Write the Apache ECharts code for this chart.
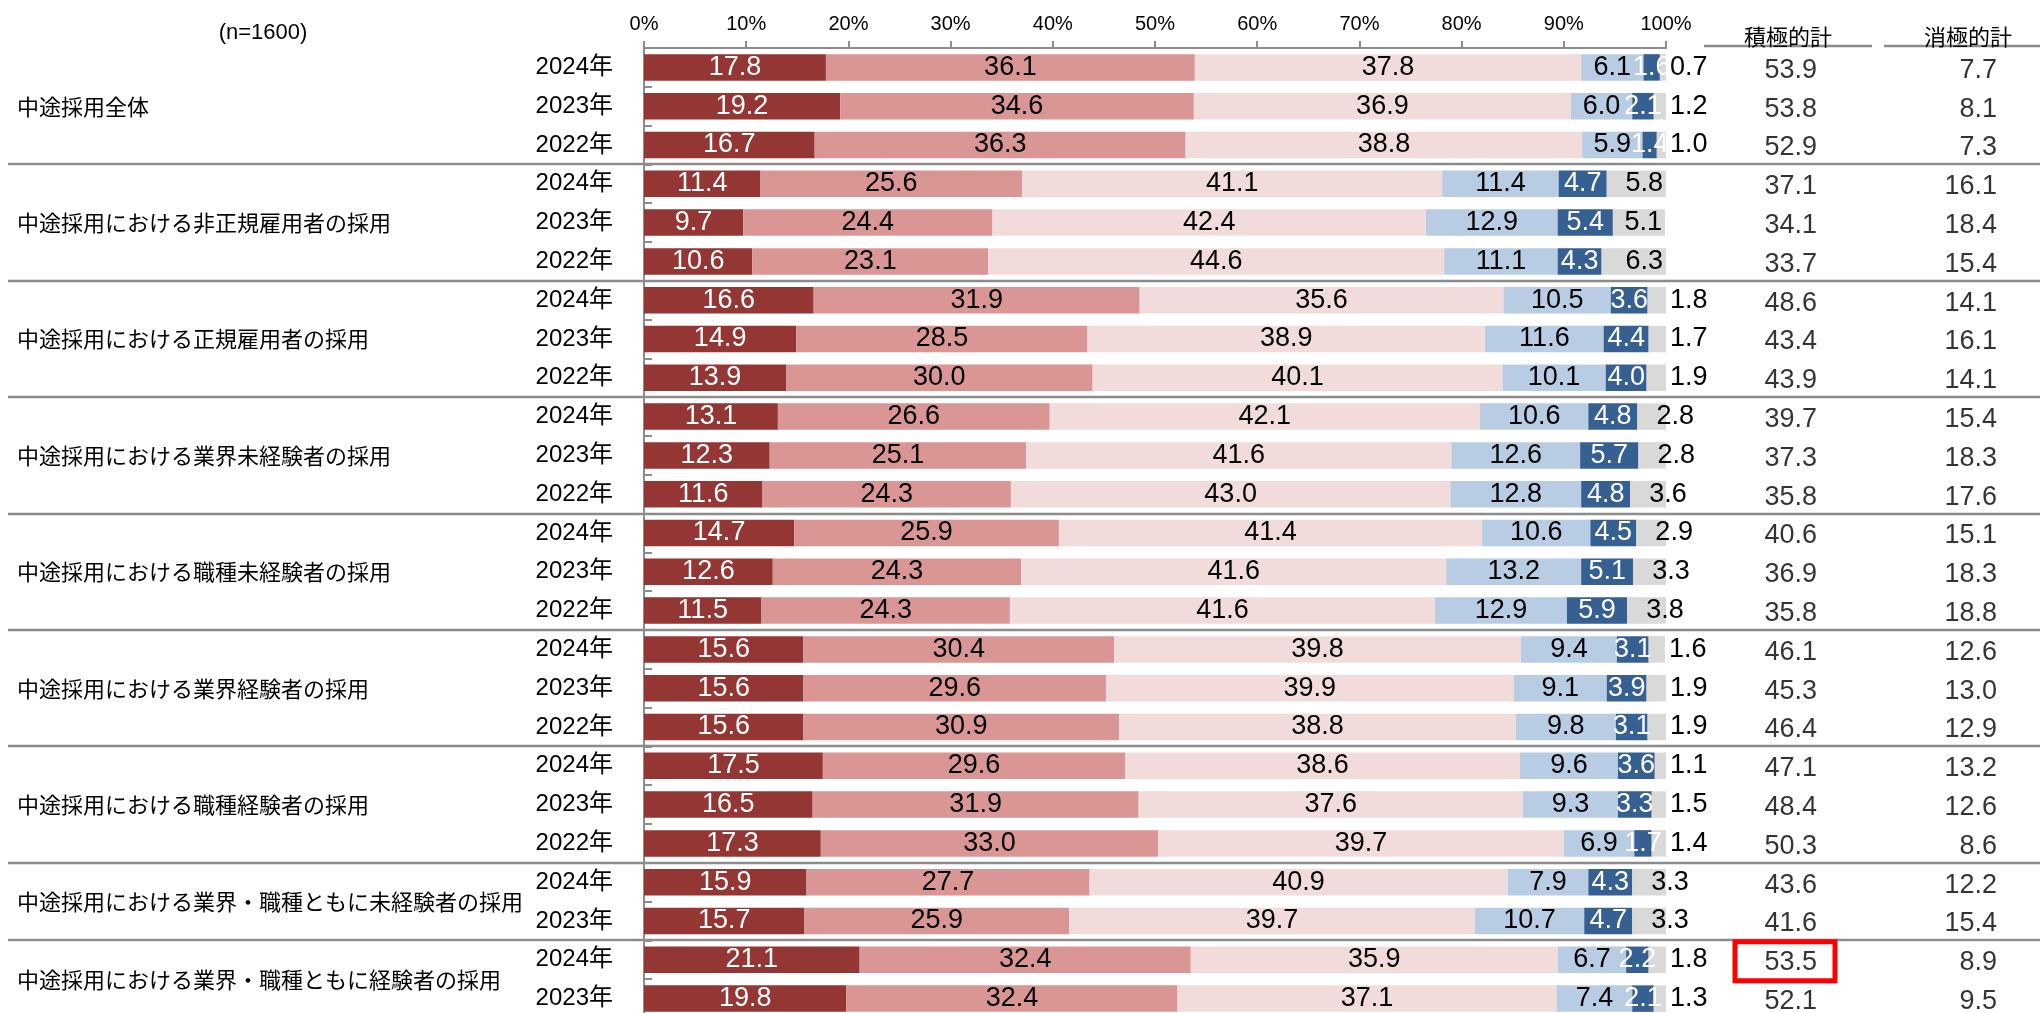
<!DOCTYPE html>
<html>
<head>
<meta charset="utf-8">
<title>中途採用の積極度</title>
<script src="https://cdn.jsdelivr.net/npm/echarts@6/dist/echarts.min.js"></script>
<style>
  html, body { margin: 0; padding: 0; background: #fff; }
  #main { width: 2040px; height: 1013px; }
</style>
</head>
<body>
<div id="main"></div>
<script>
// 行ラベル（上から順）
var years = [
  '2024年', '2023年', '2022年',
  '2024年', '2023年', '2022年',
  '2024年', '2023年', '2022年',
  '2024年', '2023年', '2022年',
  '2024年', '2023年', '2022年',
  '2024年', '2023年', '2022年',
  '2024年', '2023年', '2022年',
  '2024年', '2023年',
  '2024年', '2023年'
];
var groupNames = [
  '中途採用全体',
  '中途採用における非正規雇用者の採用',
  '中途採用における正規雇用者の採用',
  '中途採用における業界未経験者の採用',
  '中途採用における職種未経験者の採用',
  '中途採用における業界経験者の採用',
  '中途採用における職種経験者の採用',
  '中途採用における業界・職種ともに未経験者の採用',
  '中途採用における業界・職種ともに経験者の採用'
];
var groupSizes = [3, 3, 3, 3, 3, 3, 3, 2, 2];

// 各区分の値 (%)
var seg1 = [17.8, 19.2, 16.7, 11.4, 9.7, 10.6, 16.6, 14.9, 13.9, 13.1, 12.3, 11.6, 14.7, 12.6, 11.5, 15.6, 15.6, 15.6, 17.5, 16.5, 17.3, 15.9, 15.7, 21.1, 19.8];
var seg2 = [36.1, 34.6, 36.3, 25.6, 24.4, 23.1, 31.9, 28.5, 30.0, 26.6, 25.1, 24.3, 25.9, 24.3, 24.3, 30.4, 29.6, 30.9, 29.6, 31.9, 33.0, 27.7, 25.9, 32.4, 32.4];
var seg3 = [37.8, 36.9, 38.8, 41.1, 42.4, 44.6, 35.6, 38.9, 40.1, 42.1, 41.6, 43.0, 41.4, 41.6, 41.6, 39.8, 39.9, 38.8, 38.6, 37.6, 39.7, 40.9, 39.7, 35.9, 37.1];
var seg4 = [6.1, 6.0, 5.9, 11.4, 12.9, 11.1, 10.5, 11.6, 10.1, 10.6, 12.6, 12.8, 10.6, 13.2, 12.9, 9.4, 9.1, 9.8, 9.6, 9.3, 6.9, 7.9, 10.7, 6.7, 7.4];
var seg5 = [1.6, 2.1, 1.4, 4.7, 5.4, 4.3, 3.6, 4.4, 4.0, 4.8, 5.7, 4.8, 4.5, 5.1, 5.9, 3.1, 3.9, 3.1, 3.6, 3.3, 1.7, 4.3, 4.7, 2.2, 2.1];
var seg6 = [0.7, 1.2, 1.0, 5.8, 5.1, 6.3, 1.8, 1.7, 1.9, 2.8, 2.8, 3.6, 2.9, 3.3, 3.8, 1.6, 1.9, 1.9, 1.1, 1.5, 1.4, 3.3, 3.3, 1.8, 1.3];
var segNames = ['積極的', 'やや積極的', 'どちらともいえない', 'やや消極的', '消極的', 'わからない'];

// 右側の集計列
var totalHeaders = ['積極的計', '消極的計'];
var posTotal = [53.9, 53.8, 52.9, 37.1, 34.1, 33.7, 48.6, 43.4, 43.9, 39.7, 37.3, 35.8, 40.6, 36.9, 35.8, 46.1, 45.3, 46.4, 47.1, 48.4, 50.3, 43.6, 41.6, 53.5, 52.1];
var negTotal = [7.7, 8.1, 7.3, 16.1, 18.4, 15.4, 14.1, 16.1, 14.1, 15.4, 18.3, 17.6, 15.1, 18.3, 18.8, 12.6, 13.0, 12.9, 13.2, 12.6, 8.6, 12.2, 15.4, 8.9, 9.5];
var highlightRow = 23;   // 赤枠で囲む行（積極的計）
var sampleNote = '(n=1600)';

var segs = [seg1, seg2, seg3, seg4, seg5, seg6];
var segColors = ['#943634', '#DA9694', '#F2DCDB', '#B8CCE4', '#366092', '#D9D9D9'];
var segText = ['#ffffff', '#000000', '#000000', '#000000', '#ffffff', '#000000'];
var numFont = '"Liberation Sans", Arial, sans-serif';
var jpFont = '"Liberation Sans", "Noto Sans CJK JP", sans-serif';
var grayLine = '#8c8c8c';
var numSize = 27;

var rowIds = years.map(function (y, i) { return String(i); });

function fmt1(p) { return Number(p.value).toFixed(1); }

function labelFor(k, i) {
    var v = segs[k][i];
    var lab = {
        show: true,
        position: 'inside',
        color: segText[k],
        fontSize: numSize,
        fontFamily: numFont,
        offset: [0, 3],
        formatter: fmt1
    };
    // 小さい区分が続くときは左へ寄せる
    var tight = seg4[i] < 6.5 && seg5[i] < 2.5;
    if (k === 3 && tight) lab.offset = [-13, 3];
    if (k === 4 && tight) lab.offset = [-8, 3];
    if (k === 5) {
        if (v >= 5) { lab.position = 'insideRight'; lab.distance = 3; }
        else if (v >= 2.5) { lab.position = 'insideLeft'; lab.distance = 19; }
        else { lab.position = 'right'; lab.distance = 4; }
    }
    return lab;
}

var barSeries = segs.map(function (arr, k) {
    return {
        name: segNames[k],
        type: 'bar',
        stack: 'all',
        barWidth: 26.5,
        xAxisIndex: 0,
        yAxisIndex: 0,
        itemStyle: { color: segColors[k] },
        labelLayout: { hideOverlap: false },
        data: arr.map(function (v, i) {
            return { value: v, label: labelFor(k, i) };
        })
    };
});

function totalSeries(col, arr) {
    return {
        type: 'scatter',
        xAxisIndex: 1,
        yAxisIndex: 1,
        symbolSize: 1,
        silent: true,
        itemStyle: { color: 'rgba(0,0,0,0)' },
        data: arr.map(function (v, i) { return [col, i, v]; }),
        label: {
            show: true,
            position: 'inside',
            align: 'right',
            offset: [29, 3],
            fontSize: numSize,
            fontFamily: numFont,
            color: '#000',
            formatter: function (p) { return p.value[2].toFixed(1); }
        }
    };
}

var chart = echarts.init(document.getElementById('main'));
chart.setOption({
    animation: false,
    backgroundColor: '#ffffff',
    textStyle: { fontFamily: numFont },
    grid: [
        { left: 644, top: 48, width: 1022, height: 970, outerBoundsMode: 'none', containLabel: false },
        { left: 1698, top: 48, width: 360, height: 970, outerBoundsMode: 'none', containLabel: false }
    ],
    xAxis: [{
        type: 'value',
        gridIndex: 0,
        position: 'top',
        min: 0,
        max: 100,
        interval: 10,
        splitLine: { show: false },
        axisLine: { show: true, lineStyle: { color: grayLine, width: 2 } },
        axisTick: { show: true, length: 7, lineStyle: { color: grayLine, width: 2 } },
        axisLabel: {
            formatter: '{value}%',
            fontSize: 20,
            fontFamily: numFont,
            color: '#000',
            margin: 14
        }
    }, {
        type: 'category',
        gridIndex: 1,
        position: 'top',
        data: totalHeaders,
        axisLine: { show: false },
        axisTick: { show: false },
        splitLine: { show: false },
        axisLabel: { fontSize: 22, fontFamily: jpFont, color: '#000', margin: -2 }
    }],
    yAxis: [{
        type: 'category',
        gridIndex: 0,
        inverse: true,
        data: rowIds,
        axisLine: { show: true, lineStyle: { color: grayLine, width: 2 } },
        axisTick: { show: true, inside: true, length: 8, interval: 0, lineStyle: { color: grayLine, width: 2 } },
        splitLine: { show: false },
        axisLabel: {
            interval: 0,
            margin: 31,
            fontSize: 24,
            fontFamily: jpFont,
            color: '#000',
            formatter: function (v, idx) { return years[idx]; }
        }
    }, {
        type: 'category',
        gridIndex: 1,
        inverse: true,
        data: rowIds,
        show: false
    }],
    series: barSeries.concat([totalSeries(0, posTotal), totalSeries(1, negTotal)])
});

// 区切り線・グループ名・見出し下線・赤枠
function rowY(i) { return chart.convertToPixel({ yAxisIndex: 0 }, i); }
var graphics = [];
var start = 0;
groupNames.forEach(function (name, g) {
    var n = groupSizes[g];
    var yc = (rowY(start) + rowY(start + n - 1)) / 2;
    graphics.push({
        type: 'text',
        x: 17,
        y: yc,
        style: {
            text: name,
            fill: '#000',
            font: '22px "Noto Sans CJK JP", sans-serif',
            align: 'left',
            verticalAlign: 'middle'
        }
    });
    if (g < groupNames.length - 1) {
        var b = start + n;
        var y = Math.round((rowY(b - 1) + rowY(b)) / 2);
        graphics.push({
            type: 'line',
            z: 10,
            shape: { x1: 8, y1: y, x2: 2040, y2: y },
            style: { stroke: grayLine, lineWidth: 2.5 }
        });
    }
    start += n;
});

var c0 = chart.convertToPixel({ xAxisIndex: 1 }, 0);
var c1 = chart.convertToPixel({ xAxisIndex: 1 }, 1);
var bw = c1 - c0;
[c0, c1].forEach(function (c) {
    graphics.push({
        type: 'line',
        shape: { x1: c - bw / 2 + 6, y1: 46, x2: c + bw / 2 - 6, y2: 46 },
        style: { stroke: grayLine, lineWidth: 2.5 }
    });
});

var hy = rowY(highlightRow);
graphics.push({
    type: 'rect',
    z: 20,
    shape: { x: c0 - 53, y: hy - 18, width: 100, height: 39 },
    style: { fill: 'none', stroke: '#ff0000', lineWidth: 5 }
});

graphics.push({
    type: 'text',
    x: 263,
    y: 33,
    style: {
        text: sampleNote,
        fill: '#000',
        font: '22px "Liberation Sans", Arial, sans-serif',
        align: 'center',
        verticalAlign: 'middle'
    }
});

chart.setOption({ graphic: graphics });
</script>
</body>
</html>
